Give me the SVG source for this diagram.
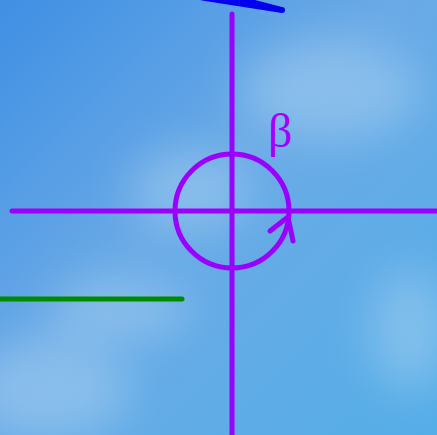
<svg xmlns="http://www.w3.org/2000/svg" width="437" height="435" viewBox="0 0 437 435">
<defs>
<linearGradient id="sky" x1="0" y1="0" x2="1" y2="1">
<stop offset="0" stop-color="#3f8fe4"/>
<stop offset="0.45" stop-color="#6aaae6"/>
<stop offset="1" stop-color="#55aee8"/>
</linearGradient>
<filter id="blur" x="-50%" y="-50%" width="200%" height="200%"><feGaussianBlur stdDeviation="22"/></filter>
<style>
.axis{stroke:#9b00ff;stroke-width:5;stroke-linecap:round;fill:none}
</style>
</defs>
<rect width="437" height="435" fill="url(#sky)"/>
<g filter="url(#blur)" fill="#b0d6f2" opacity="0.45">
<ellipse cx="330" cy="90" rx="90" ry="50"/>
<ellipse cx="50" cy="390" rx="80" ry="50"/>
<ellipse cx="190" cy="190" rx="60" ry="40"/>
<ellipse cx="120" cy="310" rx="70" ry="30"/>
<ellipse cx="410" cy="330" rx="40" ry="60"/>
</g>
<g id="connectors">
<line class="axis" x1="232" y1="14" x2="232" y2="435"/>
<line class="axis" x1="12" y1="211" x2="437" y2="211"/>
</g>
<g id="circle">
<circle class="axis" cx="232" cy="211" r="57"/>
<polyline class="axis" points="270,231 288,217 293,241" stroke-linejoin="round"/>
</g>
<g id="beta">
<text x="268" y="147" font-family="Liberation Serif, serif" font-size="48" fill="#a300ff">β</text>
</g>
<g id="blue-line">
<path d="M200,0 L255,0 L282,7 A3,3 0 0 1 282,13 L205,1 Z" fill="#0000ee"/>
</g>
<g id="green-line">
<line x1="0" y1="299" x2="182" y2="299" stroke="#008a00" stroke-width="5" stroke-linecap="round"/>
</g>
</svg>
